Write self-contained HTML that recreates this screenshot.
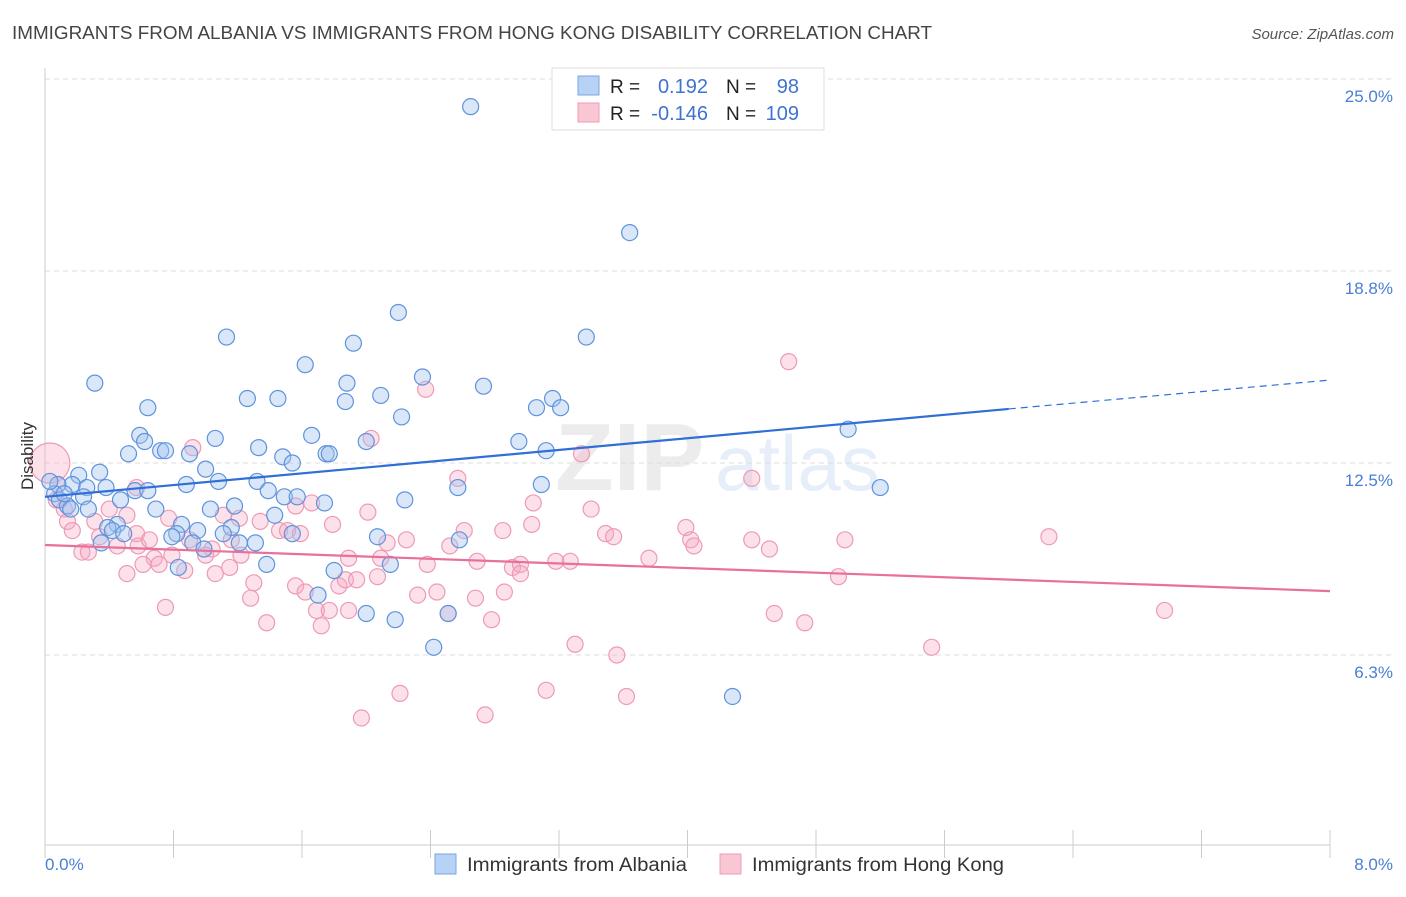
<!DOCTYPE html>
<html><head><meta charset="utf-8"><style>
body{margin:0;background:#fff;font-family:"Liberation Sans",sans-serif;}
svg text{font-family:"Liberation Sans",sans-serif;}
</style></head><body>
<svg id="chart" width="1406" height="892" xmlns="http://www.w3.org/2000/svg">
<text x="12" y="39" font-size="18" fill="#444" textLength="920" lengthAdjust="spacingAndGlyphs">IMMIGRANTS FROM ALBANIA VS IMMIGRANTS FROM HONG KONG DISABILITY CORRELATION CHART</text>
<text x="1394" y="39" font-size="15" fill="#555" text-anchor="end" font-style="italic">Source: ZipAtlas.com</text>
<g opacity="0.13">
<text x="555" y="490" font-size="96" fill="#777" font-family="Liberation Serif" font-weight="bold">ZIP</text>
<text x="715" y="490" font-size="78" fill="#4a7fd4">atlas</text>
</g>
<g id="grid"></g>
<g id="axes"></g>
<g id="pink"></g>
<g id="blue"></g>
<g id="trends"></g>
<g>
<rect x="552" y="68" width="272" height="62" fill="#fff" stroke="#ddd"/>
<rect x="578" y="76" width="21" height="19" fill="#b8d2f5" stroke="#7aa6e6"/>
<rect x="578" y="103" width="21" height="19" fill="#f9c6d4" stroke="#f09ab3"/>
<text x="610" y="93" font-size="19" fill="#222">R = </text><text x="708" y="93" font-size="20" fill="#3f73d0" text-anchor="end">0.192</text>
<text x="726" y="93" font-size="19" fill="#222">N = </text><text x="799" y="93" font-size="20" fill="#3f73d0" text-anchor="end">98</text>
<text x="610" y="120" font-size="19" fill="#222">R = </text><text x="708" y="120" font-size="20" fill="#3f73d0" text-anchor="end">-0.146</text>
<text x="726" y="120" font-size="19" fill="#222">N = </text><text x="799" y="120" font-size="20" fill="#3f73d0" text-anchor="end">109</text>
</g>
<g>
<rect x="435" y="854" width="21" height="20" fill="#b8d2f5" stroke="#7aa6e6"/>
<text x="467" y="871" font-size="19" fill="#333" textLength="220" lengthAdjust="spacingAndGlyphs">Immigrants from Albania</text>
<rect x="720" y="854" width="21" height="20" fill="#f9c6d4" stroke="#f09ab3"/>
<text x="752" y="871" font-size="19" fill="#333" textLength="252" lengthAdjust="spacingAndGlyphs">Immigrants from Hong Kong</text>
</g>
<text transform="translate(33,456) rotate(-90)" font-size="17" fill="#333" text-anchor="middle">Disability</text>
</svg>
<script>
const yTicks=[6.25,12.5,18.75,25];
const yTickLabels=["6.3%","12.5%","18.8%","25.0%"];
const xTickLabels=["0.0%","8.0%"];
const blueX=[2.65,3.64,2.20,1.13,3.37,1.92,1.62,2.35,0.31,0.64,2.73,2.09,1.88,1.26,1.45,1.87,3.06,3.16,3.21,2.22,5.00,0.59,1.06,0.62,1.66,2.95,2.00,1.33,0.72,0.75,0.52,0.90,1.48,1.54,1.75,1.77,3.12,0.34,1.00,0.21,0.17,0.08,0.26,0.38,0.56,0.64,0.88,1.08,1.32,1.39,1.49,1.57,1.74,2.57,3.09,5.20,2.24,0.06,0.09,0.24,0.14,0.27,0.69,1.03,1.18,1.43,0.45,0.39,0.85,1.16,0.42,0.49,0.82,0.95,0.79,1.11,1.21,0.35,0.92,0.99,1.38,2.07,1.54,2.58,0.83,1.80,2.15,1.70,2.00,2.18,2.51,2.42,4.28,1.31,0.16,0.03,0.12,0.47];
const blueY=[24.1,20.0,17.4,16.6,16.6,16.4,15.7,15.3,15.1,14.3,15.0,14.7,15.1,14.6,14.6,14.5,14.3,14.6,14.3,14.0,13.6,13.4,13.3,13.2,13.4,13.2,13.2,13.0,12.9,12.9,12.8,12.8,12.7,12.5,12.8,12.8,12.9,12.2,12.3,12.1,11.8,11.8,11.7,11.7,11.6,11.6,11.8,11.9,11.9,11.6,11.4,11.4,11.2,11.7,11.8,11.7,11.3,11.5,11.3,11.4,11.1,11.0,11.0,11.0,11.1,10.8,10.5,10.4,10.5,10.4,10.3,10.2,10.2,10.3,10.1,10.2,9.9,9.9,9.9,9.7,9.2,10.1,10.2,10.0,9.1,9.0,9.2,8.2,7.6,7.4,7.6,6.5,4.9,9.9,11.0,11.9,11.5,11.3];
const pinkX=[4.63,2.37,0.92,2.03,2.57,3.34,4.40,0.57,0.07,0.12,0.14,0.17,0.40,0.51,0.77,1.11,1.21,1.34,1.46,1.51,1.66,1.79,2.01,1.56,3.04,3.40,3.99,2.85,2.61,3.03,3.49,4.02,4.04,4.40,4.51,4.98,6.25,3.54,2.52,2.25,2.13,0.57,0.34,0.23,0.27,0.45,0.58,0.90,1.04,1.16,1.22,0.79,0.68,0.71,0.51,0.61,1.00,1.06,1.15,0.87,1.89,2.09,2.38,2.69,2.91,2.96,3.18,3.27,3.76,4.94,1.30,1.56,1.62,1.83,1.87,1.94,2.07,2.32,2.44,2.68,2.86,0.75,1.28,1.69,1.77,1.89,1.72,1.38,2.51,2.78,4.54,4.73,6.97,3.30,3.56,5.52,2.21,3.12,3.62,1.97,2.74,0.08,0.31,1.59,0.65,2.96,0.03];
const pinkY=[15.8,14.9,13.0,13.3,12.0,12.8,12.0,11.7,11.3,11.0,10.6,10.3,11.0,10.8,10.7,10.8,10.7,10.6,10.3,10.3,11.2,10.5,10.9,11.1,11.2,11.0,10.4,10.3,10.3,10.5,10.2,10.0,9.8,10.0,9.7,10.0,10.1,10.1,9.8,10.0,9.9,10.2,10.1,9.6,9.6,9.8,9.8,10.0,9.7,10.0,9.5,9.5,9.4,9.2,8.9,9.2,9.5,8.9,9.1,9.0,9.4,9.4,9.2,9.3,9.1,9.2,9.3,9.3,9.4,8.8,8.6,8.5,8.3,8.5,8.7,8.7,8.8,8.2,8.3,8.1,8.3,7.8,8.1,7.7,7.7,7.7,7.2,7.3,7.6,7.4,7.6,7.3,7.7,6.6,6.25,6.5,5.0,5.1,4.9,4.2,4.3,11.8,10.6,10.2,10.0,8.9,12.5];
const blueTrendX=[0,6.0,8.0];
const blueTrendY=[11.4,14.26,15.2];
const pinkTrendX=[0,8.0];
const pinkTrendY=[9.83,8.33];
const NS="http://www.w3.org/2000/svg";
const X0=45,X1=1330,Y0=847,YTOP=79;
const xs=v=>X0+v/8*(X1-X0);
const ys=v=>Y0-v/25*(Y0-YTOP);
function mk(tag,attrs,parent){const e=document.createElementNS(NS,tag);for(const k in attrs)e.setAttribute(k,attrs[k]);parent.appendChild(e);return e;}
const grid=document.getElementById('grid'),axes=document.getElementById('axes');
yTicks.forEach((t,i)=>{
 const l=mk('line',{x1:X0,x2:1393,y1:ys(t),y2:ys(t),stroke:'#ddd','stroke-dasharray':'5,4'},grid);
 
 
 const tx=mk('text',{x:1393,y:ys(t)+23,'font-size':17,fill:'#4a7fd4','text-anchor':'end'},axes);
 tx.textContent=yTickLabels[i];
 
 
});
const ya=mk('line',{x1:X0,x2:X0,y1:68,y2:845,stroke:'#ccc'},axes);


const xa=mk('line',{x1:X0,x2:X1,y1:845,y2:845,stroke:'#ccc'},axes);


for(let i=0;i<=10;i++){
 const tk=mk('line',{x1:xs(i*0.8),x2:xs(i*0.8),y1:830,y2:858,stroke:'#ccc'},axes);
 
 
}
const xl0=mk('text',{x:45,y:870,'font-size':17,fill:'#4a7fd4'},axes);xl0.textContent=xTickLabels[0];


const xl1=mk('text',{x:1393,y:870,'font-size':17,fill:'#4a7fd4','text-anchor':'end'},axes);xl1.textContent=xTickLabels[1];


const pg=document.getElementById('pink');
pinkX.forEach((x,i)=>{
 const big=i===pinkX.length-1;
 const c=mk('circle',{cx:xs(x),cy:ys(pinkY[i]),r:big?20:8,fill:'rgba(246,170,194,0.35)',stroke:'#ee9ab4','stroke-width':1.2},pg);
 
 
});
const bg=document.getElementById('blue');
blueX.forEach((x,i)=>{
 const c=mk('circle',{cx:xs(x),cy:ys(blueY[i]),r:8,fill:'rgba(160,195,240,0.4)',stroke:'#5f93dc','stroke-width':1.2},bg);
 
 
});
const tg=document.getElementById('trends');
const bt1=mk('line',{x1:xs(blueTrendX[0]),y1:ys(blueTrendY[0]),x2:xs(blueTrendX[1]),y2:ys(blueTrendY[1]),stroke:'#2f6fd6','stroke-width':2.2},tg);


const bt2=mk('line',{x1:xs(blueTrendX[1]),y1:ys(blueTrendY[1]),x2:xs(blueTrendX[2]),y2:ys(blueTrendY[2]),stroke:'#2f6fd6','stroke-width':1.2,'stroke-dasharray':'7,5'},tg);


const pt=mk('line',{x1:xs(pinkTrendX[0]),y1:ys(pinkTrendY[0]),x2:xs(pinkTrendX[1]),y2:ys(pinkTrendY[1]),stroke:'#e8709a','stroke-width':2.2},tg);


</script>
</body></html>
